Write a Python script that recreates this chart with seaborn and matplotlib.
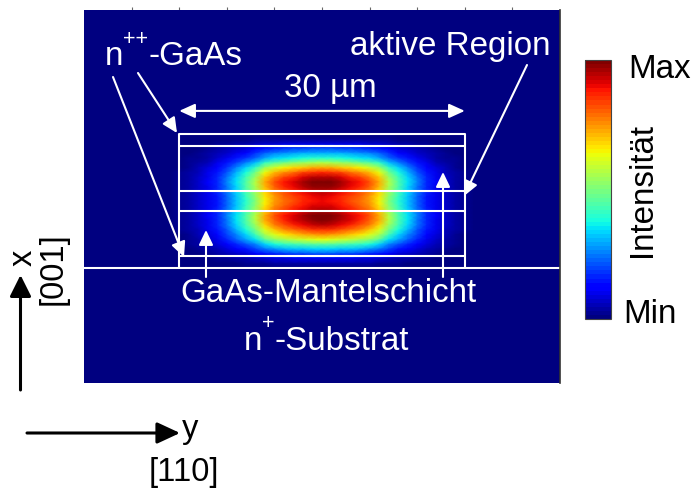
import numpy as np
import pandas as pd
import matplotlib
matplotlib.use("Agg")
import matplotlib.pyplot as plt
from matplotlib.patches import FancyArrowPatch
import seaborn as sns

# ---------------------------------------------------------------------------
# Optical mode of the ridge laser (normalised intensity)
# lateral [110] profile from the ridge centre outward, 1 µm steps
lateral_step = 1.0
lateral_half_profile = [1.0, 0.99, 0.96, 0.92, 0.88, 0.82, 0.73, 0.57, 0.45,
                        0.35, 0.25, 0.17, 0.11, 0.07, 0.04, 0.02, 0.0]
# vertical [001] profile above the substrate, 0 ... 14 µm in 0.5 µm steps
vertical_step = 0.5
vertical_profile = [0.0, 0.04, 0.10, 0.20, 0.33, 0.45, 0.61, 0.73, 0.83, 0.91,
                    0.96, 0.97, 0.93, 0.89, 0.87, 0.88, 0.91, 0.95, 0.97, 0.92,
                    0.84, 0.71, 0.55, 0.39, 0.30, 0.20, 0.09, 0.03, 0.0]
# simulation window (µm)
lateral_range = (-25.0, 25.0)
vertical_range = (-12.0, 27.0)
# ridge geometry: layer interfaces above the substrate (µm) and ridge width
layer_interfaces = [1.3, 6.0, 8.1, 12.8, 14.0]
ridge_width = 30.0
scale_bar_height = 16.45
top_ticks = [-20, -15, -10, -5, 0, 5, 10, 15, 20]
colorbar_labels = ["Min", "Max"]

# ---------------------------------------------------------------------------
# assemble the 2-D intensity map on the simulation grid
half = np.asarray(lateral_half_profile)
lateral = np.concatenate([half[::-1], half[1:]])
n_cols = int(round((lateral_range[1] - lateral_range[0]) / lateral_step)) + 1
pad_left = int(round((-(len(half) - 1) * lateral_step - lateral_range[0]) / lateral_step))
lateral_full = np.pad(lateral, (pad_left, n_cols - pad_left - len(lateral)))

vert = np.asarray(vertical_profile)
n_rows = int(round((vertical_range[1] - vertical_range[0]) / vertical_step)) + 1
pad_top = int(round((vertical_range[1] - (len(vert) - 1) * vertical_step) / vertical_step))
vertical_full = np.pad(vert[::-1], (pad_top, n_rows - pad_top - len(vert)))

field = np.outer(vertical_full, lateral_full)
lat_coords = lateral_range[0] + lateral_step * np.arange(n_cols)
vert_coords = vertical_range[1] - vertical_step * np.arange(n_rows)
intensity = pd.DataFrame(field, index=np.round(vert_coords, 2),
                         columns=np.round(lat_coords, 2))


def col(h):
    return (h - lateral_range[0]) / lateral_step


def row(v):
    return (vertical_range[1] - v) / vertical_step


# ---------------------------------------------------------------------------
sns.set_style("white")
plt.rcParams["font.family"] = ["Liberation Sans", "DejaVu Sans"]

W, H = 693, 490
fig = plt.figure(figsize=(W / 100, H / 100), dpi=100)
ax = fig.add_axes([84 / W, 1 - 383 / H, 476 / W, 373 / H])
cax = fig.add_axes([585 / W, 1 - 319 / H, 26 / W, 259 / H])

cmap = plt.get_cmap("jet", 64)
sns.heatmap(intensity, ax=ax, cbar_ax=cax, cmap=cmap, vmin=0.0,
            vmax=field.max(), shading="gouraud",
            xticklabels=False, yticklabels=False)
ax.set_xlim(0, n_cols - 1)
ax.set_ylim(n_rows - 1, 0)
ax.set_xlabel("")
ax.set_ylabel("")
ax.set_xticks([col(t) for t in top_ticks])
ax.set_xticklabels([])
ax.set_yticks([])
ax.tick_params(axis="x", top=True, bottom=False, labeltop=False,
               labelbottom=False, direction="out", length=2.5, width=0.8,
               color="#666666")
ax.spines["right"].set_visible(True)
ax.spines["right"].set_color("#333333")
ax.spines["right"].set_linewidth(1.2)

cb = ax.collections[0].colorbar
cb.set_ticks([])
cb.outline.set_linewidth(0.8)
cb.outline.set_edgecolor("#444444")


def arrow(axes, start, end, color, lw, hl, hw, style="-|>"):
    p = FancyArrowPatch(start, end,
                        arrowstyle=f"{style},head_length={hl},head_width={hw}",
                        mutation_scale=1, color=color, lw=lw,
                        shrinkA=0, shrinkB=0, transform=axes.transData)
    axes.add_patch(p)


# ridge layer structure in white
wl = 1.5
half_w = ridge_width / 2
ax.axhline(row(0.0), color="white", lw=wl)
for h in (-half_w, half_w):
    ax.plot([col(h), col(h)], [row(0.0), row(max(layer_interfaces))],
            color="white", lw=wl)
ax.hlines([row(v) for v in layer_interfaces], col(-half_w), col(half_w),
          color="white", lw=wl)
arrow(ax, (col(-half_w), row(scale_bar_height)),
      (col(half_w), row(scale_bar_height)), "white", wl, 9.5, 4.3, "<|-|>")

# overlay in pixel units for labels and leader arrows
ov = fig.add_axes([0, 0, 1, 1])
ov.set_xlim(0, W)
ov.set_ylim(H, 0)
ov.axis("off")

fs = 23.9
sup = 15.5


def label(x, y, s, color, size=fs, **kw):
    ov.text(x, y, s, color=color, fontsize=size, ha=kw.pop("ha", "left"),
            va=kw.pop("va", "baseline"), **kw)


label(105, 65, "n", "white")
label(123, 45, "++", "white", sup)
label(148, 65, "-GaAs", "white")
label(350, 55, "aktive Region", "white")
label(284, 97, "30 µm", "white")
label(180, 302, "GaAs-Mantelschicht", "white")
label(244, 350, "n", "white")
label(262, 329, "+", "white", sup)
label(275, 350, "-Substrat", "white")

for (x0, y0), (x1, y1) in [((138, 73), (177, 133)),
                           ((113, 77), (184, 257)),
                           ((527, 65), (464, 196)),
                           ((206, 277), (206, 230)),
                           ((443, 277), (443, 172))]:
    arrow(ov, (x0, y0), (x1, y1), "white", wl, 9.0, 4.3)

# colour bar annotation
label(628, 78, colorbar_labels[1], "black")
label(623, 323, colorbar_labels[0], "black")
label(643, 190, "Intensität", "black", ha="center", va="center", rotation=90)

# crystal directions
arrow(ov, (20.5, 390), (20.5, 275), "black", 2.2, 13, 6.5)
arrow(ov, (27, 433), (180, 433), "black", 2.2, 14, 6.5)
axfs = 23.5
label(32, 266, "x", "black", axfs, rotation=90, rotation_mode="anchor")
label(62, 305, "[001]", "black", axfs, rotation=90, rotation_mode="anchor")
label(182, 438, "y", "black", axfs)
label(149, 481, "[110]", "black", axfs)

fig.savefig("out.png", dpi=100)
